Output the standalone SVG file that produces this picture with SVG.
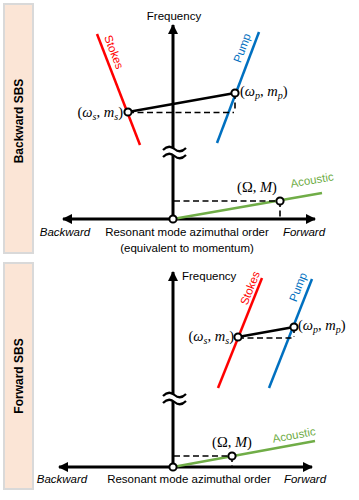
<svg xmlns="http://www.w3.org/2000/svg" width="359" height="500" viewBox="0 0 359 500">
<style>
.box{fill:#fbe5d6;stroke:#d9d9d9;stroke-width:2}
.side{font-family:"Liberation Sans",Arial,sans-serif;font-weight:bold;font-size:12px;fill:#000}
.t{font-family:"Liberation Sans",Arial,sans-serif;font-size:11.5px;fill:#000}
.it{font-style:italic}
.m{font-family:"Liberation Serif","Times New Roman",serif;font-size:14.5px;fill:#000}
.mi{font-style:italic}
.axis{stroke:#000;stroke-width:3;fill:none}
.red{stroke:#ff0000;stroke-width:2.5;fill:none}
.blue{stroke:#0070c0;stroke-width:2.5;fill:none}
.green{stroke:#70ad47;stroke-width:2.5;fill:none}
.link{stroke:#000;stroke-width:2.5;fill:none}
.dash{stroke:#000;stroke-width:1.6;stroke-dasharray:6 3.5;fill:none}
.pt{fill:#fff;stroke:#000;stroke-width:2}
.wave{stroke:#000;stroke-width:2.2;fill:none}
</style>
<defs>
<marker id="ah" viewBox="0 0 10 10" refX="9" refY="5" markerWidth="3.6" markerHeight="3.4" orient="auto" markerUnits="strokeWidth">
<path d="M0,0 L10,5 L0,10 z" fill="#000"/>
</marker>
</defs>

<!-- Top panel -->
<g id="label-backward">
<rect class="box" x="4" y="4" width="29" height="249"/>
<text class="side" transform="translate(22.5,121) rotate(-90)" text-anchor="middle">Backward SBS</text>
</g>
<g id="axes-top">
<line class="axis" x1="173" y1="219" x2="173" y2="25" marker-end="url(#ah)"/>
<line class="axis" x1="173" y1="219" x2="63" y2="219" marker-end="url(#ah)"/>
<line class="axis" x1="173" y1="219" x2="315" y2="219" marker-end="url(#ah)"/>
<rect x="163" y="148.5" width="23" height="6.5" fill="#fff"/>
<path class="wave" d="M163,150 q5.7,-6 11.5,-1 q5.7,5 11.5,-1"/>
<path class="wave" d="M163,157 q5.7,-6 11.5,-1 q5.7,5 11.5,-1"/>
<text class="t" x="174" y="20" text-anchor="middle">Frequency</text>
<text class="t it" x="65" y="236" text-anchor="middle">Backward</text>
<text class="t" x="187" y="236" text-anchor="middle">Resonant mode azimuthal order</text>
<text class="t it" x="304" y="236" text-anchor="middle">Forward</text>
<text class="t" x="187" y="252" text-anchor="middle">(equivalent to momentum)</text>
</g>
<g id="stokes-top">
<line class="red" x1="97" y1="34" x2="140" y2="145"/>
<text class="t" style="fill:#ff0000" transform="translate(114,52) rotate(68.8)" text-anchor="middle" dominant-baseline="central">Stokes</text>
</g>
<g id="pump-top">
<line class="blue" x1="259" y1="32" x2="217" y2="143"/>
<text class="t" style="fill:#0070c0" transform="translate(242,48) rotate(-69.3)" text-anchor="middle" dominant-baseline="central">Pump</text>
</g>
<g id="acoustic-top">
<line class="green" x1="173" y1="219" x2="322" y2="193"/>
<text class="t" style="fill:#70ad47" transform="translate(312,180) rotate(-9.9)" text-anchor="middle" dominant-baseline="central">Acoustic</text>
</g>
<g id="connectors-top">
<line class="dash" x1="128" y1="112.5" x2="234" y2="112.5"/>
<line class="dash" x1="235" y1="93" x2="235" y2="112"/>
<line class="dash" x1="174" y1="201" x2="280" y2="201"/>
<line class="dash" x1="280" y1="201" x2="280" y2="218"/>
<line class="link" x1="128" y1="112" x2="235" y2="93"/>
</g>
<g id="points-top">
<circle class="pt" cx="128" cy="112" r="3.6"/>
<text class="m" x="123" y="117" text-anchor="end">(<tspan class="mi">ω</tspan><tspan font-size="10" dy="2.5" class="mi">s</tspan><tspan dy="-2.5">, </tspan><tspan class="mi">m</tspan><tspan font-size="10" dy="2.5" class="mi">s</tspan><tspan dy="-2.5">)</tspan></text>
<circle class="pt" cx="235" cy="93" r="3.6"/>
<text class="m" x="240" y="96">(<tspan class="mi">ω</tspan><tspan font-size="10" dy="2.5" class="mi">p</tspan><tspan dy="-2.5">, </tspan><tspan class="mi">m</tspan><tspan font-size="10" dy="2.5" class="mi">p</tspan><tspan dy="-2.5">)</tspan></text>
<circle class="pt" cx="280" cy="201" r="3.6"/>
<text class="m" x="257" y="192" text-anchor="middle">(Ω, <tspan class="mi">M</tspan>)</text>
<circle class="pt" cx="173" cy="219" r="3.6"/>
</g>

<!-- Bottom panel -->
<g id="label-forward">
<rect class="box" x="4" y="263" width="29" height="226"/>
<text class="side" transform="translate(22.5,376) rotate(-90)" text-anchor="middle">Forward SBS</text>
</g>
<g id="axes-bottom">
<line class="axis" x1="173" y1="467" x2="173" y2="272" marker-end="url(#ah)"/>
<line class="axis" x1="173" y1="467" x2="59" y2="467" marker-end="url(#ah)"/>
<line class="axis" x1="173" y1="467" x2="312" y2="467" marker-end="url(#ah)"/>
<rect x="163" y="394.5" width="23" height="6.5" fill="#fff"/>
<path class="wave" d="M163,396 q5.7,-6 11.5,-1 q5.7,5 11.5,-1"/>
<path class="wave" d="M163,403 q5.7,-6 11.5,-1 q5.7,5 11.5,-1"/>
<text class="t" x="182" y="280">Frequency</text>
<text class="t it" x="62" y="483" text-anchor="middle">Backward</text>
<text class="t" x="189" y="483" text-anchor="middle">Resonant mode azimuthal order</text>
<text class="t it" x="305" y="483" text-anchor="middle">Forward</text>
</g>
<g id="stokes-bottom">
<line class="red" x1="262" y1="278" x2="218" y2="388"/>
<text class="t" style="fill:#ff0000" transform="translate(250,288) rotate(-68.2)" text-anchor="middle" dominant-baseline="central">Stokes</text>
</g>
<g id="pump-bottom">
<line class="blue" x1="312" y1="279" x2="269" y2="388"/>
<text class="t" style="fill:#0070c0" transform="translate(298,287) rotate(-68.5)" text-anchor="middle" dominant-baseline="central">Pump</text>
</g>
<g id="acoustic-bottom">
<line class="green" x1="173" y1="467" x2="315" y2="441"/>
<text class="t" style="fill:#70ad47" transform="translate(294,435) rotate(-10.4)" text-anchor="middle" dominant-baseline="central">Acoustic</text>
</g>
<g id="connectors-bottom">
<line class="dash" x1="238" y1="338" x2="293" y2="338"/>
<line class="dash" x1="294" y1="327" x2="294" y2="337"/>
<line class="dash" x1="174" y1="456" x2="232" y2="456"/>
<line class="dash" x1="232" y1="456" x2="232" y2="466"/>
<line class="link" x1="238" y1="337" x2="294" y2="327"/>
</g>
<g id="points-bottom">
<circle class="pt" cx="238" cy="337" r="3.6"/>
<text class="m" x="234" y="341" text-anchor="end">(<tspan class="mi">ω</tspan><tspan font-size="10" dy="2.5" class="mi">s</tspan><tspan dy="-2.5">, </tspan><tspan class="mi">m</tspan><tspan font-size="10" dy="2.5" class="mi">s</tspan><tspan dy="-2.5">)</tspan></text>
<circle class="pt" cx="294" cy="327" r="3.6"/>
<text class="m" x="298" y="330">(<tspan class="mi">ω</tspan><tspan font-size="10" dy="2.5" class="mi">p</tspan><tspan dy="-2.5">, </tspan><tspan class="mi">m</tspan><tspan font-size="10" dy="2.5" class="mi">p</tspan><tspan dy="-2.5">)</tspan></text>
<circle class="pt" cx="232" cy="456" r="3.6"/>
<text class="m" x="232" y="447" text-anchor="middle">(Ω, <tspan class="mi">M</tspan>)</text>
<circle class="pt" cx="173" cy="467" r="3.6"/>
</g>
</svg>
